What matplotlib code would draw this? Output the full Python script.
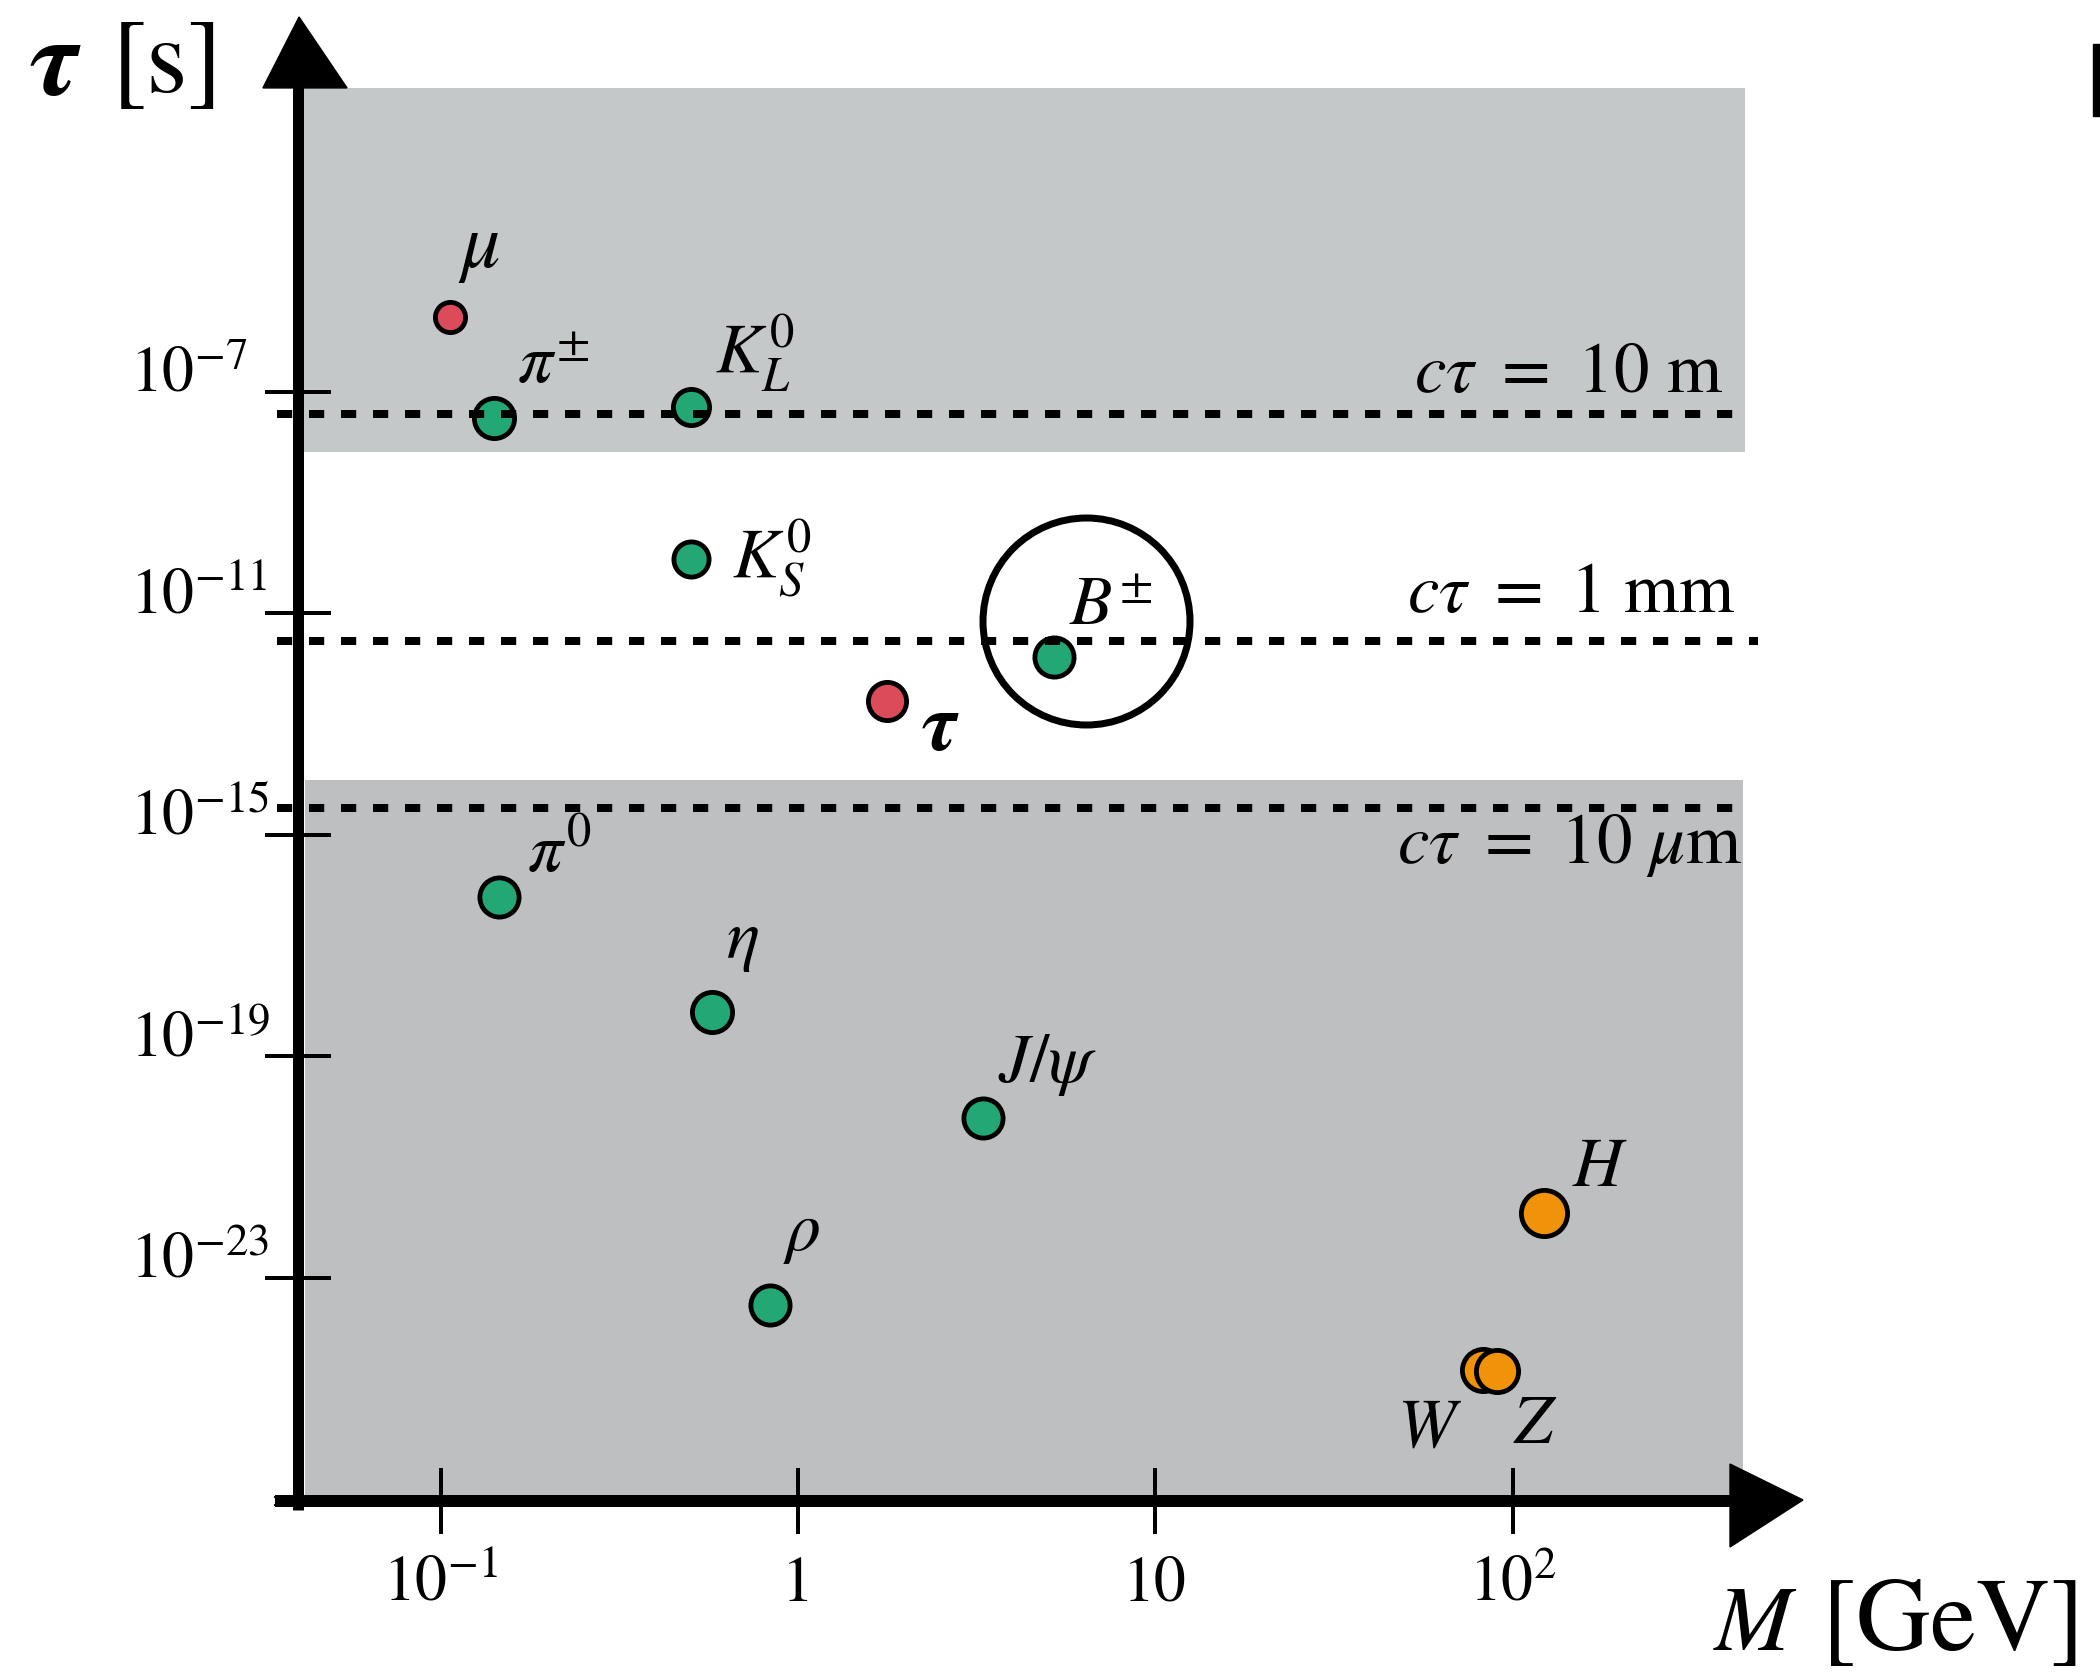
import matplotlib
matplotlib.use("Agg")
import matplotlib.pyplot as plt
from matplotlib.patches import Polygon, Rectangle

plt.rcParams['font.family'] = ['STIXGeneral', 'DejaVu Serif']
plt.rcParams['mathtext.fontset'] = 'stix'

# Datos: masa [GeV] y vida media [s]
nombres = [r'$\mu$', r'$\pi^{\pm}$', r'$K_L^0$', r'$K_S^0$', r'$B^{\pm}$', 'τ',
           r'$\pi^0$', r'$\eta$', r'$J/\psi$', r'$\rho$', r'$H$', r'$W$', r'$Z$']
masa = [0.106, 0.141, 0.502, 0.502, 5.21, 1.775,
        0.146, 0.575, 3.29, 0.835, 122.4, 82.6, 90.4]
vida = [2.3e-6, 3.4e-8, 5.4e-8, 9.6e-11, 1.64e-12, 2.6e-13,
        7.6e-17, 6.4e-19, 7.8e-21, 3.2e-24, 1.5e-22, 2.2e-25, 2.1e-25]
tipo = ['lepton', 'meson', 'meson', 'meson', 'meson', 'lepton',
        'meson', 'meson', 'meson', 'meson', 'boson', 'boson', 'boson']

# lineas de c*tau constante
textos_ct = [r'$c\tau\ =\ 10$ m', r'$c\tau\ =\ 1$ mm', r'$c\tau\ =\ 10\ \mu$m']
vida_ct = [4.0e-8, 3.2e-12, 3.1e-15]

# zonas sombreadas (vida media)
zona_larga = (10**-8.08, 10**-1.51)
zona_corta = (10**-27.03, 1.0e-14)

xticks = [0.1, 1, 10, 100]
xlabels = [r'$10^{-1}$', '1', '10', r'$10^{2}$']
yticks = [1e-7, 1e-11, 1e-15, 1e-19, 1e-23]
ylabels = [r'$10^{-7}$', r'$10^{-11}$', r'$10^{-15}$', r'$10^{-19}$', r'$10^{-23}$']

# estilo
colores = {'lepton': '#dc4b5a', 'meson': '#22a775', 'boson': '#f0930b'}
diametro_px = [35, 45, 41, 40, 44, 43, 44, 45, 44, 44, 51, 47, 47]
tam_letra = [56, 50, 50, 50, 50, 58, 50, 50, 50, 50, 50, 50, 50]
desplaz = [(8, 50), (23, 35), (24, 34), (41, -19), (15, 32), (35, -49), (28, 25),
           (14, 54), (15, 36), (13, 55), (28, 27), (-21, -77), (16, -72)]
desplaz_ct = [(1723, 22), (1736, 29), (1743, -55)]
PX = 0.72  # puntos por pixel a dpi 100

fig = plt.figure(figsize=(21, 16.72), dpi=100)
ax = fig.add_axes([298 / 2100, 171 / 1672, 1505 / 2100, 1484 / 1672])
ax.set_xscale('log')
ax.set_yscale('log')
x0, x1 = 10**-1.3994, 10**2.8128
ax.set_xlim(x0, x1)
ax.set_ylim(10**-27.03, 10**-0.228)


def px_a_x(p):
    """Convierte un pixel horizontal de la figura en masa."""
    return 10 ** ((p - 798) / 357.3)


# zonas grises
ax.fill_between([10**-1.394, 10**2.650], zona_larga[0], zona_larga[1],
                color='#c5c8c9', lw=0, zorder=0)
ax.fill_between([10**-1.380, 10**2.645], zona_corta[0], zona_corta[1],
                color='#bebfc1', lw=0, zorder=0)

# lineas discontinuas
fines = [2.645, 2.687, 2.645]
for t, fin in zip(vida_ct, fines):
    ax.plot([10**-1.458, 10**fin], [t, t], color='black', lw=8 * PX,
            ls=(0, (1.9, 2.1)), zorder=4, clip_on=False)
for texto, t, (xr, dy) in zip(textos_ct, vida_ct, desplaz_ct):
    ax.annotate(texto, (px_a_x(xr), t), xytext=(0, dy), textcoords='offset pixels',
                ha='right', va='baseline', fontsize=51, zorder=5)

# puntos
lw_borde = 4.8
for m, t, tp, d in zip(masa, vida, tipo, diametro_px):
    ax.scatter(m, t, s=((d - lw_borde) * PX) ** 2, c=colores[tp],
               edgecolors='black', linewidths=lw_borde * PX, zorder=3)

for nom, m, t, (dx, dy), fs in zip(nombres, masa, vida, desplaz, tam_letra):
    if nom == 'τ':
        ax.annotate(nom, (m, t), xytext=(dx, dy), textcoords='offset pixels',
                    ha='left', va='baseline', fontsize=fs, fontweight='bold',
                    fontstyle='italic', family='STIXGeneral')
    else:
        ax.annotate(nom, (m, t), xytext=(dx, dy), textcoords='offset pixels',
                    ha='right' if dx < 0 else 'left', va='baseline', fontsize=fs)

# circulo alrededor del B
ax.plot(10**0.806, 10**-11.135, 'o', ms=207 * PX, mfc='none', mec='black',
        mew=7 * PX, zorder=4)

# ejes dibujados a mano
for s in ax.spines.values():
    s.set_visible(False)
ax.set_xticks(xticks, xlabels)
ax.set_yticks(yticks, ylabels)
ax.minorticks_off()
ax.tick_params(direction='inout', length=66 * PX, width=4 * PX, labelsize=46)
ax.tick_params(axis='x', pad=48)
ax.tick_params(axis='y', pad=97)
for lab in ax.get_xticklabels():
    lab.set_va('baseline')
for lab in ax.get_yticklabels():
    lab.set_va('baseline')
    lab.set_ha('left')

ax.plot([-0.0153, 0.955], [0, 0], color='black', lw=12 * PX,
        transform=ax.transAxes, clip_on=False, zorder=6, solid_capstyle='butt')
ax.plot([0, 0], [-0.006, 0.953], color='black', lw=11 * PX,
        transform=ax.transAxes, clip_on=False, zorder=6, solid_capstyle='butt')
for dd in (-0.0025, 0.0025):
    ax.plot([-0.0153, 0.955], [dd, dd], color='black', lw=1.5,
            transform=ax.transAxes, clip_on=False, zorder=6)
ax.add_patch(Polygon([[0.9515, 0.0249], [0.9515, -0.031], [1.0, 0.0007]],
                     closed=True, color='black', transform=ax.transAxes,
                     clip_on=False, zorder=6))
ax.add_patch(Polygon([[-0.0233, 0.9522], [0.0326, 0.9522], [0.0007, 1.0]],
                     closed=True, color='black', transform=ax.transAxes,
                     clip_on=False, zorder=6))

# titulos de los ejes
fig.text(30 / 2100, 1 - 95 / 1672, 'τ', fontsize=80, fontweight='bold',
         fontstyle='italic', family='STIXGeneral', va='baseline')
fig.text(112 / 2100, 1 - 92 / 1672, '[s]', fontsize=76, va='baseline')
fig.text(1713 / 2100, 1 - 1650 / 1672, r'$M$', fontsize=67, va='baseline')
fig.text(1822 / 2100, 1 - 1650 / 1672, '[GeV]', fontsize=74, va='baseline')

# trozo negro recortado arriba a la derecha
fig.add_artist(Rectangle((2093 / 2100, 1 - 116 / 1672), 0.01, 72 / 1672,
                         color='black', transform=fig.transFigure))

fig.savefig('out.png', dpi=100)
